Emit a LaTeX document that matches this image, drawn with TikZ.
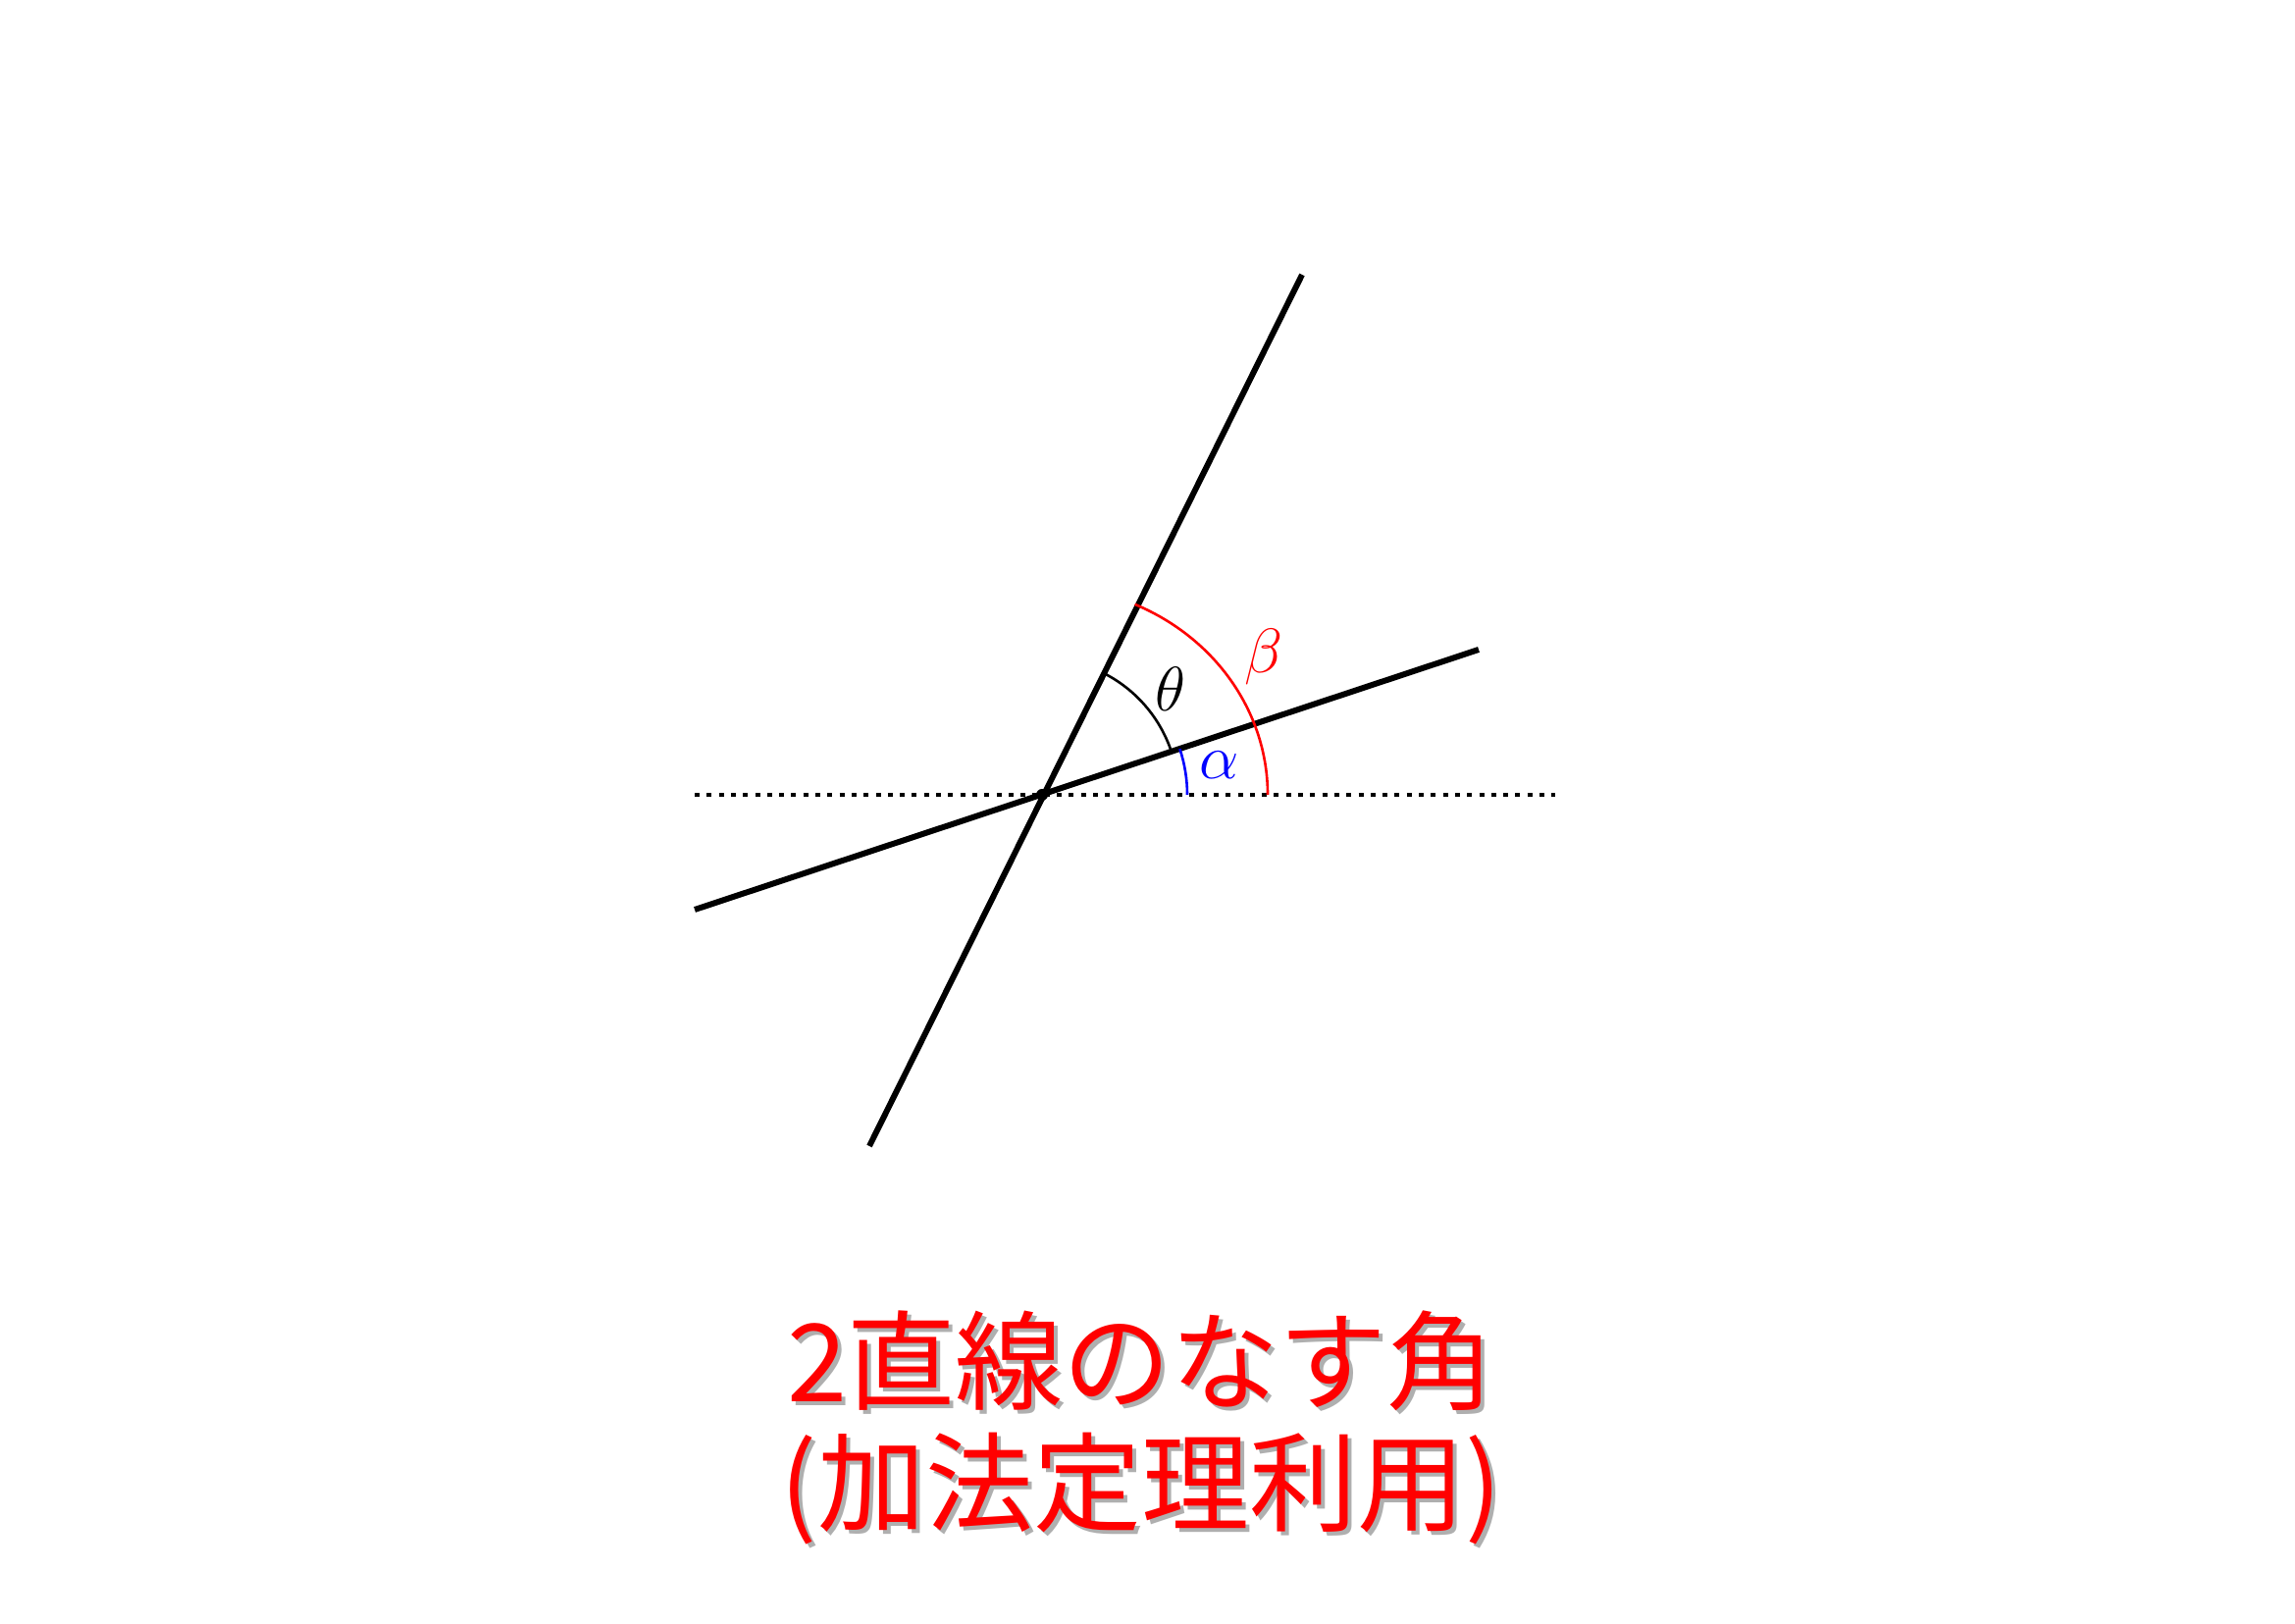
\documentclass[tikz,border=0pt]{standalone}
\usepackage{fix-cm}
\usepackage{fontspec}
\newfontfamily\cjk{Noto Sans CJK JP}
\usetikzlibrary{calc}
\definecolor{myred}{RGB}{255,0,0}
\definecolor{myblue}{RGB}{0,0,255}
\definecolor{shadowgray}{RGB}{175,175,175}
\tikzset{
  mainline/.style={line width=6pt, black},
  refline/.style={line width=3.5pt, black, dash pattern=on 5pt off 7.3pt},
  anglearc/.style={line width=2.6pt},
  anglelabel/.style={font=\fontsize{64}{70}\selectfont},
  titletext/.style={font=\cjk\fontsize{110}{124}\selectfont, align=center, inner sep=0pt}
}
\begin{document}
\begin{tikzpicture}[x=1pt,y=1pt]
\useasboundingbox (0,0) rectangle (2339,1654);
\coordinate (O) at (1062,844);
\coordinate (S1) at (886,486);
\coordinate (S2) at (1327,1374);
\coordinate (T1) at (708,727);
\coordinate (T2) at (1507,992);
\coordinate (H1) at (708,844);
\coordinate (H2) at (1585,844);
\draw[refline] (H1) -- (H2);
\draw[mainline] (S1) -- (S2);
\draw[mainline] (T1) -- (T2);
\fill (O) circle (6);
\draw[anglearc, myblue] ($(O)+(148,0)$) arc[start angle=0, end angle=18.43, radius=148];
\draw[anglearc, black] ($(O)+(18.43:139)$) arc[start angle=18.43, end angle=63.43, radius=139];
\draw[anglearc, myred] ($(O)+(230,0)$) arc[start angle=0, end angle=65.7, x radius=230, y radius=213];
\node[anglelabel] (theta) at (1193,952) {$\theta$};
\node[anglelabel, text=myblue] (alpha) at (1243,874) {$\alpha$};
\node[anglelabel, text=myred] (beta) at (1288,984) {$\beta$};
\node[titletext, text=shadowgray] (titleshadow) at (1167,195) {2直線のなす角\\(加法定理利用)};
\node[titletext, text=myred] (title) at (1163,199) {2直線のなす角\\(加法定理利用)};
\end{tikzpicture}
\end{document}
